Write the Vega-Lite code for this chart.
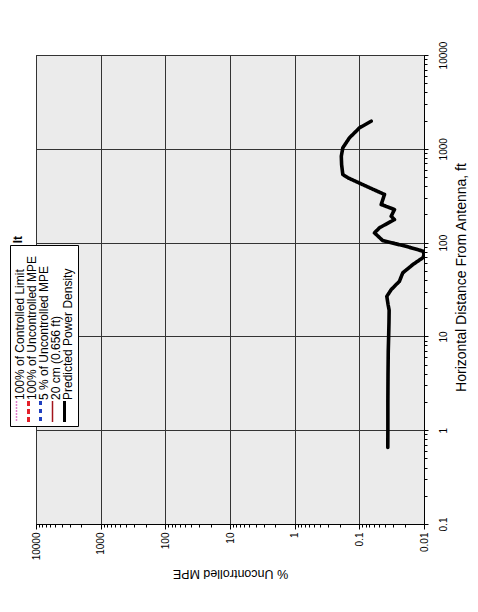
{
  "$schema": "https://vega.github.io/schema/vega-lite/v6.json",
  "width": 388,
  "height": 469,
  "autosize": {"type": "none"},
  "padding": {"left": 36, "top": 55, "right": 54, "bottom": 88},
  "background": "white",
  "title": {"text": "lt", "orient": "left", "anchor": "end", "frame": "group", "offset": -15, "dx": -181, "fontSize": 12, "fontWeight": "bold", "font": "Liberation Sans", "color": "black"},
  "data": {"values": [
    {"distance": 0.656, "mpe": 0.0363, "series": "Predicted Power Density"},
    {"distance": 1, "mpe": 0.0362, "series": "Predicted Power Density"},
    {"distance": 2, "mpe": 0.0362, "series": "Predicted Power Density"},
    {"distance": 4, "mpe": 0.036, "series": "Predicted Power Density"},
    {"distance": 7, "mpe": 0.0357, "series": "Predicted Power Density"},
    {"distance": 10, "mpe": 0.0352, "series": "Predicted Power Density"},
    {"distance": 14, "mpe": 0.0348, "series": "Predicted Power Density"},
    {"distance": 19, "mpe": 0.0346, "series": "Predicted Power Density"},
    {"distance": 22, "mpe": 0.036, "series": "Predicted Power Density"},
    {"distance": 26.7, "mpe": 0.0376, "series": "Predicted Power Density"},
    {"distance": 31.5, "mpe": 0.0322, "series": "Predicted Power Density"},
    {"distance": 38.7, "mpe": 0.024, "series": "Predicted Power Density"},
    {"distance": 47.6, "mpe": 0.0213, "series": "Predicted Power Density"},
    {"distance": 58.3, "mpe": 0.0149, "series": "Predicted Power Density"},
    {"distance": 69.4, "mpe": 0.0103, "series": "Predicted Power Density"},
    {"distance": 75, "mpe": 0.01, "series": "Predicted Power Density"},
    {"distance": 80.9, "mpe": 0.0103, "series": "Predicted Power Density"},
    {"distance": 91.2, "mpe": 0.0189, "series": "Predicted Power Density"},
    {"distance": 105, "mpe": 0.0434, "series": "Predicted Power Density"},
    {"distance": 127, "mpe": 0.0583, "series": "Predicted Power Density"},
    {"distance": 144, "mpe": 0.0488, "series": "Predicted Power Density"},
    {"distance": 176, "mpe": 0.0286, "series": "Predicted Power Density"},
    {"distance": 191, "mpe": 0.0322, "series": "Predicted Power Density"},
    {"distance": 225, "mpe": 0.0286, "series": "Predicted Power Density"},
    {"distance": 255, "mpe": 0.0459, "series": "Predicted Power Density"},
    {"distance": 326, "mpe": 0.0408, "series": "Predicted Power Density"},
    {"distance": 399, "mpe": 0.0782, "series": "Predicted Power Density"},
    {"distance": 491, "mpe": 0.15, "series": "Predicted Power Density"},
    {"distance": 532, "mpe": 0.18, "series": "Predicted Power Density"},
    {"distance": 680, "mpe": 0.188, "series": "Predicted Power Density"},
    {"distance": 834, "mpe": 0.19, "series": "Predicted Power Density"},
    {"distance": 1025, "mpe": 0.18, "series": "Predicted Power Density"},
    {"distance": 1310, "mpe": 0.142, "series": "Predicted Power Density"},
    {"distance": 1675, "mpe": 0.0993, "series": "Predicted Power Density"},
    {"distance": 1969, "mpe": 0.0655, "series": "Predicted Power Density"}
  ]},
  "mark": {"type": "line", "strokeWidth": 3.6, "clip": true, "strokeCap": "round", "strokeJoin": "round"},
  "encoding": {
    "x": {
      "field": "mpe", "type": "quantitative",
      "scale": {"type": "log", "domain": [0.01, 10000], "reverse": true, "nice": false},
      "axis": {
        "orient": "bottom",
        "values": [0.01,0.02,0.03,0.04,0.05,0.06,0.07,0.08,0.09,0.1,0.2,0.3,0.4,0.5,0.6,0.7,0.8,0.9,1,2,3,4,5,6,7,8,9,10,20,30,40,50,60,70,80,90,100,200,300,400,500,600,700,800,900,1000,2000,3000,4000,5000,6000,7000,8000,9000,10000],
        "format": "~g",
        "labelExpr": "abs(round(log(datum.value)/LN10) - log(datum.value)/LN10) < 0.000001 ? datum.label : ''",
        "labelAngle": 270, "labelAlign": "right", "labelBaseline": "middle", "labelPadding": 3,
        "labelFlush": false, "labelOverlap": false,
        "tickSize": {"condition": {"test": "abs(round(log(datum.value)/LN10) - log(datum.value)/LN10) < 0.000001", "value": 5}, "value": 3},
        "grid": true,
        "gridOpacity": {"condition": {"test": "abs(round(log(datum.value)/LN10) - log(datum.value)/LN10) < 0.000001", "value": 1}, "value": 0},
        "title": "% Uncontrolled MPE", "titleAngle": 180, "titleFontSize": 12.5,
        "titleX": 194, "titleY": 49, "titleAlign": "center", "titleBaseline": "middle"
      }
    },
    "y": {
      "field": "distance", "type": "quantitative",
      "scale": {"type": "log", "domain": [0.1, 10000], "nice": false},
      "axis": {
        "orient": "right",
        "values": [0.1,0.2,0.3,0.4,0.5,0.6,0.7,0.8,0.9,1,2,3,4,5,6,7,8,9,10,20,30,40,50,60,70,80,90,100,200,300,400,500,600,700,800,900,1000,2000,3000,4000,5000,6000,7000,8000,9000,10000],
        "format": "~g",
        "labelExpr": "abs(round(log(datum.value)/LN10) - log(datum.value)/LN10) < 0.000001 ? datum.label : ''",
        "labelAngle": 270, "labelAlign": "center", "labelBaseline": "top", "labelPadding": 10,
        "labelFlush": false, "labelOverlap": false,
        "tickSize": {"condition": {"test": "abs(round(log(datum.value)/LN10) - log(datum.value)/LN10) < 0.000001", "value": 4}, "value": 3},
        "grid": true,
        "gridOpacity": {"condition": {"test": "abs(round(log(datum.value)/LN10) - log(datum.value)/LN10) < 0.000001", "value": 1}, "value": 0},
        "title": "Horizontal Distance From Antenna, ft", "titleAngle": 270, "titleFontSize": 14,
        "titleX": 37, "titleY": 222, "titleAlign": "center", "titleBaseline": "middle"
      }
    },
    "order": {"field": "distance", "type": "quantitative"},
    "color": {
      "field": "series", "type": "nominal",
      "scale": {
        "domain": ["100% of Controlled Limit", "100% of Uncontrolled MPE", "5 % of Uncontrolled MPE", "20 cm (0.656 ft)", "Predicted Power Density"],
        "range": ["#e07fcb", "#e3202a", "#1f3fbf", "#a3151c", "#000000"]
      },
      "legend": {
        "orient": "none", "legendX": -26, "legendY": 190, "direction": "horizontal",
        "title": null, "zindex": 2,
        "fillColor": "white", "strokeColor": "black", "padding": 4,
        "columnPadding": -4, "clipHeight": 173,
        "symbolType": "M0,-1L0,1", "symbolSize": 441, "symbolStrokeWidth": 2,
        "labelFont": "Liberation Sans", "labelFontSize": 12, "labelColor": "black",
        "labelAlign": "left", "labelBaseline": "middle", "labelLimit": 0,
        "encode": {
          "labels": {"update": {"angle": {"value": 270}, "x": {"value": 6}, "y": {"value": 151}}},
          "symbols": {"update": {"x": {"value": 2.5}, "y": {"value": 162.5},
            "strokeWidth": {"signal": "datum.value === 'Predicted Power Density' || datum.value === '100% of Uncontrolled MPE' || datum.value === '5 % of Uncontrolled MPE' ? 3 : 1.5"}}}
        }
      }
    },
    "strokeDash": {
      "field": "series", "type": "nominal",
      "scale": {
        "domain": ["100% of Controlled Limit", "100% of Uncontrolled MPE", "5 % of Uncontrolled MPE", "20 cm (0.656 ft)", "Predicted Power Density"],
        "range": [[2, 1], [5, 3], [4, 4], [1, 0], [1, 0]]
      },
      "legend": {
        "orient": "none", "legendX": -26, "legendY": 190, "direction": "horizontal",
        "title": null, "zindex": 2,
        "fillColor": "white", "strokeColor": "black", "padding": 4,
        "columnPadding": -4, "clipHeight": 173,
        "symbolType": "M0,-1L0,1", "symbolSize": 441, "symbolStrokeWidth": 2,
        "labelFont": "Liberation Sans", "labelFontSize": 12, "labelColor": "black",
        "labelAlign": "left", "labelBaseline": "middle", "labelLimit": 0,
        "encode": {
          "labels": {"update": {"angle": {"value": 270}, "x": {"value": 6}, "y": {"value": 151}}},
          "symbols": {"update": {"x": {"value": 2.5}, "y": {"value": 162.5},
            "strokeWidth": {"signal": "datum.value === 'Predicted Power Density' || datum.value === '100% of Uncontrolled MPE' || datum.value === '5 % of Uncontrolled MPE' ? 3 : 1.5"}}}
        }
      }
    }
  },
  "config": {
    "font": "Liberation Sans",
    "view": {"fill": "#ebebeb", "stroke": "#222222", "strokeWidth": 1},
    "axis": {
      "labelFont": "Liberation Sans", "titleFont": "Liberation Sans",
      "labelColor": "black", "titleColor": "black", "labelFontSize": 10,
      "domainColor": "black", "tickColor": "black",
      "gridColor": "#333333", "gridWidth": 1, "titleFontWeight": "normal"
    }
  }
}
